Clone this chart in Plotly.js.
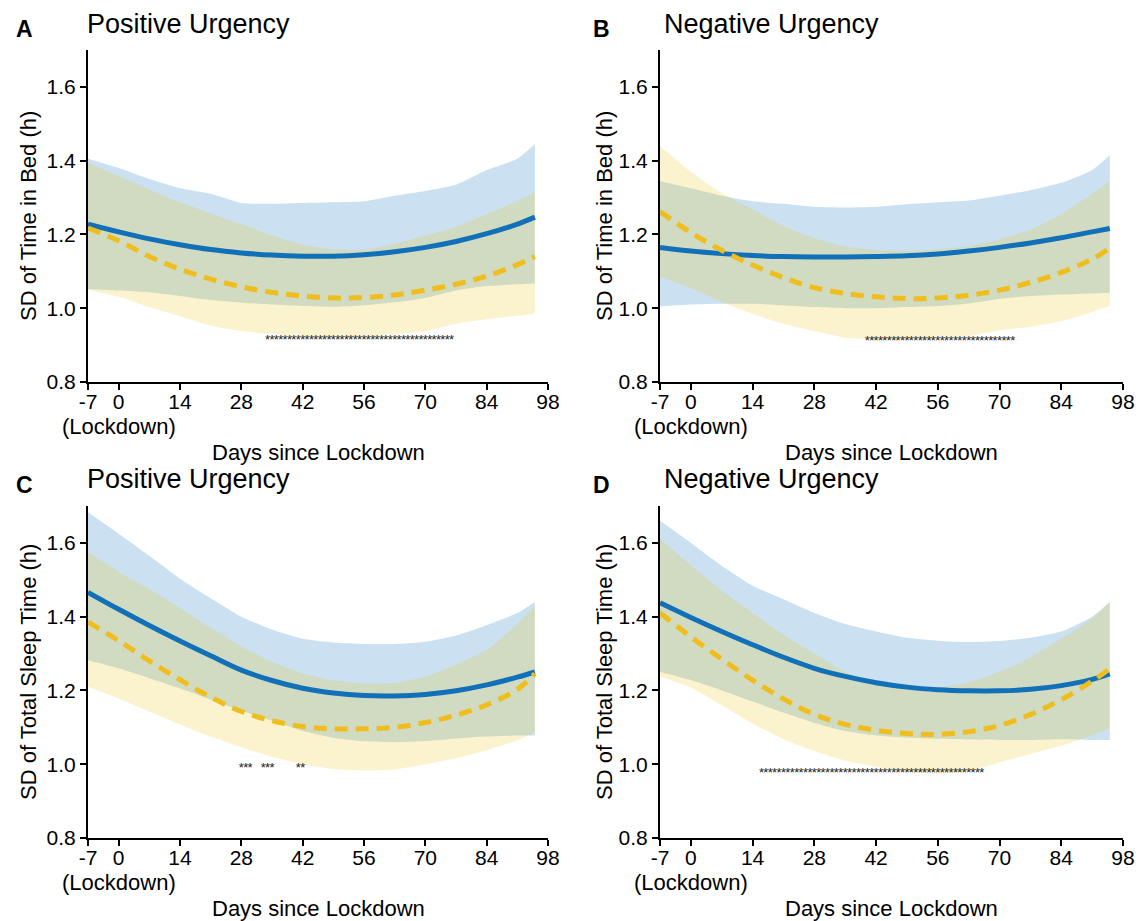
<!DOCTYPE html>
<html><head><meta charset="utf-8">
<script src="https://cdn.plot.ly/plotly-3.0.1.min.js"></script>
<style>html,body{margin:0;padding:0;background:#fff}#chart{width:1142px;height:921px}</style>
</head><body><div id="chart"></div>
<script>
// ---------- data ----------
const days = [-7,0,7,14,21,28,35,42,49,56,63,70,77,84,91,95];
const xTickVals = [-7,0,14,28,42,56,70,84,98];
const xTickText = ['-7','0','14','28','42','56','70','84','98'];
const lockdownDay = 0;
const lockdownLabel = '(Lockdown)';
const yTickVals = [0.8,1.0,1.2,1.4,1.6];
const yTickText = ['0.8','1.0','1.2','1.4','1.6'];
const panelLetters = ['A','B','C','D'];
const panelTitles = ['Positive Urgency','Negative Urgency','Positive Urgency','Negative Urgency'];
const yTitles = ['SD of Time in Bed (h)','SD of Time in Bed (h)','SD of Total Sleep Time (h)','SD of Total Sleep Time (h)'];
const xTitle = 'Days since Lockdown';

// Panel A (Time in Bed, Positive Urgency)
const A_blueFit = [1.228,1.207,1.188,1.172,1.159,1.150,1.144,1.141,1.141,1.145,1.153,1.165,1.181,1.202,1.228,1.247];
const A_blueHi  = [1.405,1.380,1.350,1.325,1.310,1.285,1.283,1.285,1.287,1.290,1.305,1.318,1.335,1.375,1.405,1.445];
const A_blueLo  = [1.052,1.048,1.043,1.033,1.022,1.015,1.010,1.006,1.004,1.008,1.016,1.028,1.048,1.060,1.065,1.068];
const A_yelFit  = [1.217,1.183,1.140,1.106,1.079,1.058,1.043,1.033,1.028,1.029,1.036,1.049,1.065,1.087,1.118,1.140];
const A_yelHi   = [1.395,1.358,1.322,1.287,1.257,1.228,1.197,1.172,1.160,1.158,1.175,1.197,1.220,1.255,1.290,1.316];
const A_yelLo   = [1.050,1.031,1.003,0.978,0.953,0.938,0.930,0.924,0.922,0.923,0.930,0.938,0.958,0.970,0.980,0.986];
const A_sigDays = [34,35,36,37,38,39,40,41,42,43,44,45,46,47,48,49,50,51,52,53,54,55,56,57,58,59,60,61,62,63,64,65,66,67,68,69,70,71,72,73,74,75,76];
const A_sigY = 0.912;

// Panel B (Time in Bed, Negative Urgency)
const B_blueFit = [1.165,1.155,1.148,1.143,1.140,1.139,1.139,1.140,1.142,1.147,1.155,1.165,1.177,1.191,1.207,1.216];
const B_blueHi  = [1.345,1.325,1.305,1.290,1.283,1.275,1.273,1.275,1.282,1.287,1.292,1.305,1.320,1.340,1.375,1.415];
const B_blueLo  = [1.005,1.010,1.012,1.012,1.008,1.003,1.000,1.000,1.003,1.006,1.013,1.025,1.033,1.037,1.040,1.042];
const B_yelFit  = [1.262,1.205,1.157,1.117,1.083,1.056,1.040,1.031,1.026,1.028,1.035,1.049,1.070,1.097,1.133,1.163];
const B_yelHi   = [1.440,1.370,1.312,1.268,1.222,1.190,1.167,1.158,1.156,1.160,1.168,1.187,1.213,1.255,1.310,1.345];
const B_yelLo   = [1.085,1.054,1.017,0.985,0.958,0.938,0.920,0.916,0.918,0.922,0.925,0.940,0.950,0.965,0.990,1.006];
const B_sigDays = [40,41,42,43,44,45,46,47,48,49,50,51,52,53,54,55,56,57,58,59,60,61,62,63,64,65,66,67,68,69,70,71,72,73];
const B_sigY = 0.909;

// Panel C (Total Sleep Time, Positive Urgency)
const C_blueFit = [1.466,1.420,1.376,1.334,1.294,1.255,1.227,1.206,1.193,1.186,1.185,1.189,1.199,1.215,1.236,1.250];
const C_blueHi  = [1.683,1.625,1.565,1.503,1.450,1.400,1.365,1.340,1.330,1.326,1.326,1.332,1.349,1.377,1.410,1.440];
const C_blueLo  = [1.282,1.260,1.233,1.205,1.175,1.145,1.118,1.090,1.072,1.062,1.060,1.063,1.070,1.075,1.078,1.078];
const C_yelFit  = [1.385,1.335,1.280,1.229,1.182,1.143,1.118,1.102,1.096,1.096,1.100,1.113,1.133,1.161,1.203,1.245];
const C_yelHi   = [1.575,1.522,1.475,1.423,1.370,1.320,1.277,1.246,1.227,1.219,1.220,1.237,1.270,1.310,1.380,1.430];
const C_yelLo   = [1.210,1.178,1.143,1.108,1.075,1.046,1.020,1.000,0.987,0.983,0.986,1.000,1.016,1.038,1.065,1.087];
const C_sigDays = [28,29,30,33,34,35,41,42];
const C_sigY = 0.988;

// Panel D (Total Sleep Time, Negative Urgency)
const D_blueFit = [1.438,1.398,1.360,1.324,1.290,1.260,1.238,1.221,1.209,1.202,1.199,1.199,1.203,1.213,1.230,1.245];
const D_blueHi  = [1.660,1.600,1.538,1.484,1.447,1.410,1.380,1.360,1.343,1.335,1.331,1.334,1.343,1.360,1.400,1.440];
const D_blueLo  = [1.250,1.228,1.200,1.170,1.140,1.112,1.090,1.078,1.072,1.069,1.067,1.066,1.066,1.068,1.066,1.066];
const D_yelFit  = [1.410,1.345,1.285,1.228,1.177,1.135,1.108,1.092,1.083,1.081,1.088,1.105,1.135,1.175,1.225,1.259];
const D_yelHi   = [1.610,1.540,1.470,1.410,1.350,1.300,1.250,1.224,1.212,1.208,1.222,1.250,1.290,1.340,1.395,1.440];
const D_yelLo   = [1.238,1.208,1.160,1.110,1.068,1.036,1.010,0.993,0.980,0.974,0.982,1.005,1.028,1.050,1.078,1.098];
const D_sigDays = [16,17,18,19,20,21,22,23,24,25,26,27,28,29,30,31,32,33,34,35,36,37,38,39,40,41,42,43,44,45,46,47,48,49,50,51,52,53,54,55,56,57,58,59,60,61,62,63,64,65,66];
const D_sigY = 0.974;

// ---------- styling / layout ----------
const W = 1142, H = 921;
const FONT = 'Liberation Sans, Arial, Helvetica, sans-serif';
const BLUE = '#1170B8', YEL = '#EFBE1E';
const BLUE_FILL = 'rgba(30,120,195,0.23)', YEL_FILL = 'rgba(232,200,28,0.22)';

const panels = [
  {fit:[A_blueFit,A_yelFit], hi:[A_blueHi,A_yelHi], lo:[A_blueLo,A_yelLo], sig:A_sigDays, sigY:A_sigY, xpx:[88,548], ypx:[50,382], lab:[24,29], tit:[85,23.5], ytx:28, xty:452.5, lock:426},
  {fit:[B_blueFit,B_yelFit], hi:[B_blueHi,B_yelHi], lo:[B_blueLo,B_yelLo], sig:B_sigDays, sigY:B_sigY, xpx:[660,1123], ypx:[50,382], lab:[601,29], tit:[662,23.5], ytx:604, xty:452.5, lock:426},
  {fit:[C_blueFit,C_yelFit], hi:[C_blueHi,C_yelHi], lo:[C_blueLo,C_yelLo], sig:C_sigDays, sigY:C_sigY, xpx:[88,548], ypx:[506,838], lab:[24,484.5], tit:[85,478.5], ytx:28, xty:908, lock:882},
  {fit:[D_blueFit,D_yelFit], hi:[D_blueHi,D_yelHi], lo:[D_blueLo,D_yelLo], sig:D_sigDays, sigY:D_sigY, xpx:[660,1123], ypx:[506,838], lab:[601,484.5], tit:[662,478.5], ytx:604, xty:908, lock:882}
];

const traces = [];
const layout = {
  width: W, height: H,
  margin: {l:0, r:0, t:0, b:0},
  paper_bgcolor: '#fff', plot_bgcolor: 'rgba(0,0,0,0)',
  showlegend: false,
  font: {family: FONT, color: '#000'},
  annotations: []
};
const px = v => v / W, py = v => 1 - v / H;

panels.forEach((p, i) => {
  const s = i === 0 ? '' : String(i + 1);
  const xa = 'x' + s, ya = 'y' + s;
  const base = {x: days, xaxis: xa, yaxis: ya, hoverinfo: 'skip', showlegend: false};
  // blue band
  traces.push(Object.assign({}, base, {y: p.lo[0], mode: 'lines', line: {width: 0, color: 'rgba(0,0,0,0)', shape: 'spline', smoothing: 0.6}}));
  traces.push(Object.assign({}, base, {y: p.hi[0], mode: 'lines', fill: 'tonexty', fillcolor: BLUE_FILL, line: {width: 0, color: 'rgba(0,0,0,0)', shape: 'spline', smoothing: 0.6}}));
  // yellow band
  traces.push(Object.assign({}, base, {y: p.lo[1], mode: 'lines', line: {width: 0, color: 'rgba(0,0,0,0)', shape: 'spline', smoothing: 0.6}}));
  traces.push(Object.assign({}, base, {y: p.hi[1], mode: 'lines', fill: 'tonexty', fillcolor: YEL_FILL, line: {width: 0, color: 'rgba(0,0,0,0)', shape: 'spline', smoothing: 0.6}}));
  // fitted lines
  traces.push(Object.assign({}, base, {y: p.fit[0], mode: 'lines', line: {width: 5, color: BLUE, shape: 'spline', smoothing: 1}}));
  traces.push(Object.assign({}, base, {y: p.fit[1], mode: 'lines', line: {width: 5, color: YEL, dash: '13px,8px', shape: 'spline', smoothing: 1}}));
  // significance asterisks
  traces.push({x: p.sig, y: p.sig.map(() => p.sigY), xaxis: xa, yaxis: ya, mode: 'text', text: p.sig.map(() => '*'),
    textposition: 'middle center', textfont: {family: FONT, size: 13, color: '#222'}, hoverinfo: 'skip', showlegend: false});

  const axCommon = {showline: true, linewidth: 2, linecolor: '#000', ticks: 'outside', ticklen: 6, tickwidth: 2, tickcolor: '#000',
    showgrid: false, zeroline: false, tickangle: 0, automargin: false, tickfont: {family: FONT, size: 21, color: '#000'}, fixedrange: true};
  layout['xaxis' + s] = Object.assign({}, axCommon, {domain: [px(p.xpx[0]), px(p.xpx[1])], range: [-7, 98], anchor: ya,
    tickmode: 'array', tickvals: xTickVals, ticktext: xTickText, ticklabelstandoff: -6});
  layout['yaxis' + s] = Object.assign({}, axCommon, {domain: [py(p.ypx[1]), py(p.ypx[0])], range: [0.8, 1.7], anchor: xa,
    tickmode: 'array', tickvals: yTickVals, ticktext: yTickText});

  layout.annotations.push(
    {text: '<b>' + panelLetters[i] + '</b>', x: px(p.lab[0]), y: py(p.lab[1]), xref: 'paper', yref: 'paper', xanchor: 'center', yanchor: 'middle', showarrow: false, font: {family: FONT, size: 23, color: '#000'}},
    {text: panelTitles[i], x: px(p.tit[0]), y: py(p.tit[1]), xref: 'paper', yref: 'paper', xanchor: 'left', yanchor: 'middle', showarrow: false, font: {family: FONT, size: 27, color: '#000'}},
    {text: yTitles[i], x: px(p.ytx), y: py((p.ypx[0] + p.ypx[1]) / 2), xref: 'paper', yref: 'paper', xanchor: 'center', yanchor: 'middle', textangle: -90, showarrow: false, font: {family: FONT, size: 22, color: '#000'}},
    {text: xTitle, x: px((p.xpx[0] + p.xpx[1]) / 2), y: py(p.xty), xref: 'paper', yref: 'paper', xanchor: 'center', yanchor: 'middle', showarrow: false, font: {family: FONT, size: 22, color: '#000'}},
    {text: lockdownLabel, x: lockdownDay, y: py(p.lock), xref: xa, yref: 'paper', xanchor: 'center', yanchor: 'middle', showarrow: false, font: {family: FONT, size: 22, color: '#000'}}
  );
});

Plotly.newPlot('chart', traces, layout, {displayModeBar: false, staticPlot: true});
</script>
</body></html>
